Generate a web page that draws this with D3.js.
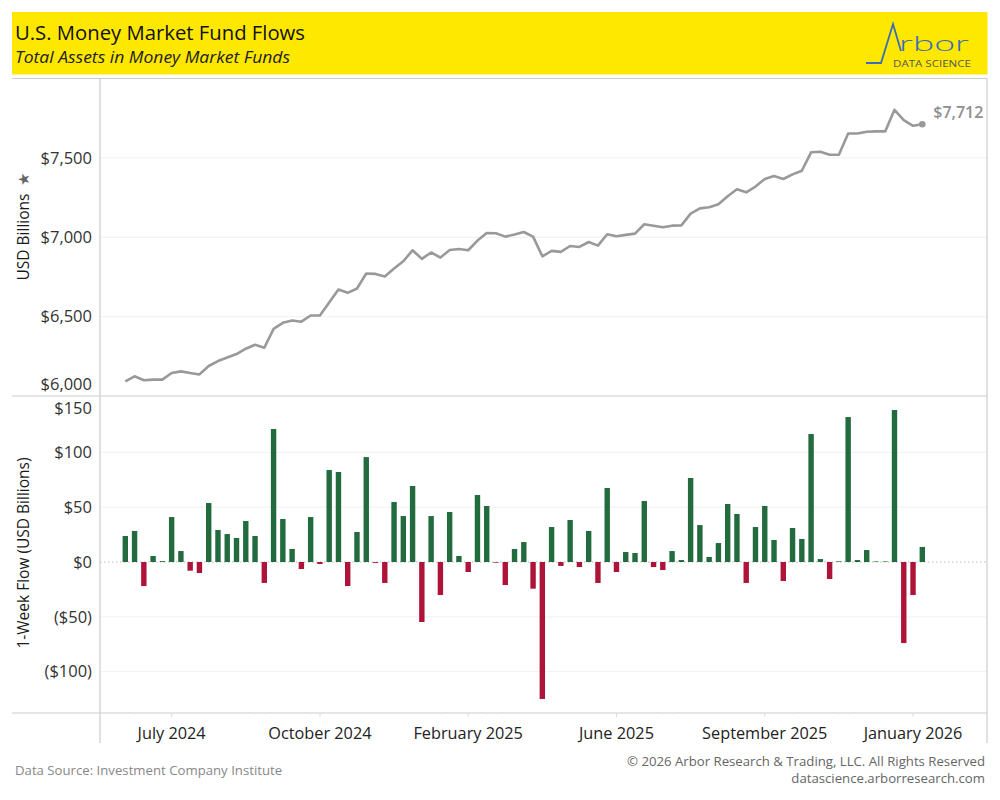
<!DOCTYPE html>
<html><head><meta charset="utf-8">
<script src="https://cdn.jsdelivr.net/npm/d3@7"></script>
<style>
body{margin:0;background:#fff;}
text{font-family:"Open Sans","Noto Sans",sans-serif;}
</style>
</head><body>
<svg id="chart" width="1000" height="800"></svg>
<script>
// ---------- DATA ----------
const dates = [
"2024-05-29","2024-06-05","2024-06-12","2024-06-19","2024-06-26","2024-07-03","2024-07-10","2024-07-17","2024-07-24","2024-07-31",
"2024-08-07","2024-08-14","2024-08-21","2024-08-28","2024-09-04","2024-09-11","2024-09-18","2024-09-25","2024-10-02","2024-10-09",
"2024-10-16","2024-10-23","2024-10-30","2024-11-06","2024-11-13","2024-11-20","2024-11-27","2024-12-04","2024-12-11","2024-12-18",
"2024-12-25","2025-01-01","2025-01-08","2025-01-15","2025-01-22","2025-01-29","2025-02-05","2025-02-12","2025-02-19","2025-02-26",
"2025-03-05","2025-03-12","2025-03-19","2025-03-26","2025-04-02","2025-04-09","2025-04-16","2025-04-23","2025-04-30","2025-05-07",
"2025-05-14","2025-05-21","2025-05-28","2025-06-04","2025-06-11","2025-06-18","2025-06-25","2025-07-02","2025-07-09","2025-07-16",
"2025-07-23","2025-07-30","2025-08-06","2025-08-13","2025-08-20","2025-08-27","2025-09-03","2025-09-10","2025-09-17","2025-09-24",
"2025-10-01","2025-10-08","2025-10-15","2025-10-22","2025-10-29","2025-11-05","2025-11-12","2025-11-19","2025-11-26","2025-12-03",
"2025-12-10","2025-12-17","2025-12-24","2025-12-31","2026-01-07","2026-01-14","2026-01-21"
];
const totalAssets = [
6092,6124,6099,6103,6103,6145,6155,6145,6136,6189,
6220,6243,6264,6298,6323,6304,6423,6461,6476,6468,
6507,6507,6589,6671,6650,6677,6772,6769,6753,6803,
6849,6918,6864,6904,6872,6920,6926,6918,6979,7027,
7025,7004,7017,7033,7004,6880,6914,6908,6945,6939,
6970,6947,7019,7006,7015,7023,7082,7073,7063,7073,
7075,7149,7182,7189,7208,7258,7302,7283,7319,7367,
7386,7367,7396,7419,7535,7539,7520,7520,7654,7654,
7665,7667,7667,7803,7738,7702,7712
];
const weeklyFlow = [
23.7,28.3,-21.9,5.5,0.8,41.0,10.0,-7.9,-10.0,53.8,
29.2,25.5,21.9,37.4,23.7,-19.1,121.3,39.2,11.9,-6.4,
41.0,-1.8,83.9,82.1,-21.9,27.4,95.7,-0.8,-19.1,54.7,
41.9,69.3,-54.7,41.9,-30.1,45.6,5.5,-9.1,61.1,51.1,
-0.6,-21.0,11.9,18.2,-24.3,-124.9,31.9,-3.6,38.3,-4.6,
28.3,-19.1,67.5,-9.1,9.1,8.2,55.6,-4.6,-7.3,10.0,
1.8,76.6,33.7,4.6,17.3,52.9,43.8,-19.1,31.9,51.1,
20.1,-17.3,31.0,21.0,116.7,2.7,-15.5,0.6,132.2,1.8,
10.9,0.5,0.5,138.6,-73.9,-30.1,13.7
];
const assetTicks = [6000, 6500, 7000, 7500];
const flowTicks = [150, 100, 50, 0, -50, -100];
const xTickDates = ["2024-07-03","2024-10-23","2025-02-12","2025-06-04","2025-09-24","2026-01-14"];

const title = "U.S. Money Market Fund Flows";
const subtitle = "Total Assets in Money Market Funds";
const topAxisTitle = "USD Billions";
const bottomAxisTitle = "1-Week Flow (USD Billions)";
const source = "Data Source: Investment Company Institute";
const copyright = "© 2026 Arbor Research & Trading, LLC. All Rights Reserved";
const website = "datascience.arborresearch.com";

// ---------- SETUP ----------
const parse = d3.timeParse("%Y-%m-%d");
const rows = dates.map((d, i) => ({date: parse(d), assets: totalAssets[i], flow: weeklyFlow[i]}));
const svg = d3.select("#chart");

const L = 100, R = 987, LEFT_EDGE = 12;
const topY0 = 78.5, midY = 396, botY = 713, axisBottom = 743;

const x = d3.scaleTime()
  .domain([rows[0].date, rows[rows.length - 1].date])
  .range([125.3, 922.3]);
const yTop = d3.scaleLinear().domain([6000, 8000]).range([midY, topY0]);
const yBar = d3.scaleLinear().domain([-137.7, 151.4]).range([botY, midY]);

const gridColor = "#f0f0f0", borderColor = "#cccccc", tickTextColor = "#333";

// ---------- HEADER ----------
svg.append("rect").attr("x", 12).attr("y", 12).attr("width", 975.5).attr("height", 62.5).attr("fill", "#ffe800");
svg.append("text").attr("x", 15).attr("y", 40).attr("font-size", 20).attr("fill", "#111")
  .attr("textLength", 290).attr("lengthAdjust", "spacingAndGlyphs").text(title);
svg.append("text").attr("x", 15).attr("y", 63).attr("font-size", 15.5).attr("font-style", "italic").attr("fill", "#222")
  .attr("textLength", 275).attr("lengthAdjust", "spacingAndGlyphs").text(subtitle);

// logo
const logoBlue = "#3b6db3";
svg.append("polyline").attr("points", "866,63 881,63 893,24 901,51")
  .attr("fill", "none").attr("stroke", logoBlue).attr("stroke-width", 1.8).attr("stroke-linejoin", "miter");
svg.append("text").attr("x", 899).attr("y", 51).attr("font-size", 21).attr("font-weight", 300)
  .attr("fill", logoBlue).attr("font-family", "Lato, sans-serif")
  .attr("textLength", 70).attr("lengthAdjust", "spacingAndGlyphs").text("rbor");
svg.append("text").attr("x", 893).attr("y", 67).attr("font-size", 9.5).attr("fill", "#555")
  .attr("textLength", 78).attr("lengthAdjust", "spacingAndGlyphs").text("DATA SCIENCE");

// ---------- GRIDLINES ----------
const gTop = svg.append("g");
assetTicks.filter(t => Math.abs(yTop(t) - midY) > 4 && Math.abs(yTop(t) - topY0) > 4).forEach(t => {
  gTop.append("line").attr("x1", L).attr("x2", R).attr("y1", yTop(t)).attr("y2", yTop(t))
    .attr("stroke", gridColor).attr("stroke-width", 1);
});
const gBot = svg.append("g");
flowTicks.filter(t => t !== 0 && Math.abs(yBar(t) - midY) > 4 && Math.abs(yBar(t) - botY) > 4).forEach(t => {
  gBot.append("line").attr("x1", L).attr("x2", R).attr("y1", yBar(t)).attr("y2", yBar(t))
    .attr("stroke", gridColor).attr("stroke-width", 1);
});

// ---------- BORDERS ----------
[[LEFT_EDGE, R, topY0, topY0], [LEFT_EDGE, R, midY, midY], [LEFT_EDGE, R, botY, botY]].forEach(([x1, x2, y1, y2]) => {
  svg.append("line").attr("x1", x1).attr("x2", x2).attr("y1", y1).attr("y2", y2).attr("stroke", borderColor).attr("stroke-width", 1.2);
});
svg.append("line").attr("x1", L).attr("x2", L).attr("y1", topY0).attr("y2", axisBottom).attr("stroke", borderColor).attr("stroke-width", 1.2);
svg.append("line").attr("x1", R).attr("x2", R).attr("y1", topY0).attr("y2", axisBottom).attr("stroke", borderColor).attr("stroke-width", 1.2);

// ---------- ZERO LINE ----------
svg.append("line").attr("x1", L).attr("x2", R).attr("y1", yBar(0)).attr("y2", yBar(0))
  .attr("stroke", "#b8b8b8").attr("stroke-width", 1).attr("stroke-dasharray", "1.5,2.5");

// ---------- LINE ----------
const line = d3.line().x(d => x(d.date)).y(d => yTop(d.assets));
svg.append("path").datum(rows).attr("d", line).attr("fill", "none")
  .attr("stroke", "#999999").attr("stroke-width", 2.6).attr("stroke-linejoin", "round");
const last = rows[rows.length - 1];
svg.append("circle").attr("cx", x(last.date)).attr("cy", yTop(last.assets)).attr("r", 3.3).attr("fill", "#999999");
svg.append("text").attr("x", x(last.date) + 11).attr("y", yTop(last.assets) - 6)
  .attr("font-size", 16).attr("font-weight", 600).attr("fill", "#8f8f8f")
  .text(d3.format("$,.0f")(last.assets));

// ---------- BARS ----------
const bw = 5.4;
svg.append("g").selectAll("rect").data(rows).join("rect")
  .attr("x", d => x(d.date) - bw / 2)
  .attr("width", bw)
  .attr("y", d => yBar(Math.max(0, d.flow)))
  .attr("height", d => Math.abs(yBar(d.flow) - yBar(0)))
  .attr("fill", d => d.flow >= 0 ? "#226b3e" : "#ae1339");

// ---------- Y AXIS LABELS ----------
const fmtUsd = v => v < 0 ? "($" + d3.format(",")(-v) + ")" : "$" + d3.format(",")(v);
assetTicks.forEach(t => {
  const yy = Math.min(Math.max(yTop(t), topY0 + 12), midY - 12);
  svg.append("text").attr("x", 92).attr("y", yy).attr("dy", "0.35em").attr("text-anchor", "end")
    .attr("font-size", 16.5).attr("fill", tickTextColor).text(fmtUsd(t));
});
flowTicks.forEach(t => {
  const yy = Math.min(Math.max(yBar(t), midY + 12), botY - 12);
  svg.append("text").attr("x", 92).attr("y", yy).attr("dy", "0.35em").attr("text-anchor", "end")
    .attr("font-size", 16.5).attr("fill", tickTextColor).text(fmtUsd(t));
});

// axis titles
svg.append("text").attr("transform", "translate(29,237) rotate(-90)").attr("text-anchor", "middle")
  .attr("font-size", 15.5).attr("fill", "#1a1a1a").text(topAxisTitle);
svg.append("text").attr("transform", "translate(29,179) rotate(-90)").attr("text-anchor", "middle")
  .attr("font-size", 15).attr("fill", "#666").text("★");
svg.append("text").attr("transform", "translate(29,553) rotate(-90)").attr("text-anchor", "middle")
  .attr("font-size", 15.5).attr("fill", "#1a1a1a").text(bottomAxisTitle);

// ---------- X AXIS ----------
const xAxis = d3.axisBottom(x).tickValues(rows.map(d => d.date)).tickSize(2).tickFormat("");
const gx = svg.append("g").attr("transform", `translate(0,${botY})`).call(xAxis);
gx.select(".domain").remove();
gx.selectAll(".tick line").attr("stroke", "#ececec");
const fmtMonth = d3.timeFormat("%B %Y");
xTickDates.map(parse).forEach(d => {
  svg.append("line").attr("x1", x(d)).attr("x2", x(d)).attr("y1", botY).attr("y2", botY + 4).attr("stroke", "#dddddd");
  svg.append("text").attr("x", x(d)).attr("y", 739).attr("text-anchor", "middle")
    .attr("font-size", 16.3).attr("fill", "#222").text(fmtMonth(d));
});

// ---------- FOOTER ----------
svg.append("text").attr("x", 15).attr("y", 775).attr("font-size", 13.2).attr("fill", "#888").text(source);
svg.append("text").attr("x", 985).attr("y", 766).attr("text-anchor", "end").attr("font-size", 13.2).attr("fill", "#666").text(copyright);
svg.append("text").attr("x", 985).attr("y", 783).attr("text-anchor", "end").attr("font-size", 13.2).attr("fill", "#666").text(website);
</script>
</body></html>
